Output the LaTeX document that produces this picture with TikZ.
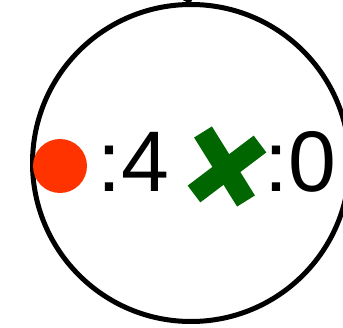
\documentclass[tikz,border=0pt]{standalone}
\usepackage{fontspec}
\setmainfont{Liberation Sans}
\usetikzlibrary{calc}
\definecolor{Ember}{HTML}{FF3300}
\definecolor{Leaf}{HTML}{006600}

\begin{document}
\begin{tikzpicture}[x=1pt,y=1pt,
    countlabel/.style={anchor=base west,inner sep=0pt,font=\fontsize{86}{96}\selectfont},
    crossarm/.style={Leaf,line width=21pt}]
    \useasboundingbox (0,0) rectangle (343,327);
    \begin{scope}
    \clip (0,0) rectangle (343,327);
    \node[circle,draw=black,line width=5pt,minimum size=317pt,inner sep=0pt] (state) at (191,164) {};
    \coordinate (entry) at (168,334);
    \draw[line width=4.5pt] (entry) to[bend left=10] (state.north);
    \end{scope}

    \node[circle,fill=Ember,minimum size=54pt,inner sep=0pt] (dot) at (60,161) {};
    \node[countlabel] (dotcount) at (97,135) {:4};

    \coordinate (cross) at (227,161);
    \draw[crossarm] ($(cross)+(-24,34)$) -- ($(cross)+(19,-35)$);
    \draw[crossarm] ($(cross)+(-33,-28)$) -- ($(cross)+(33,22)$);
    \node[countlabel] (crosscount) at (264,135) {:0};
\end{tikzpicture}
\end{document}
